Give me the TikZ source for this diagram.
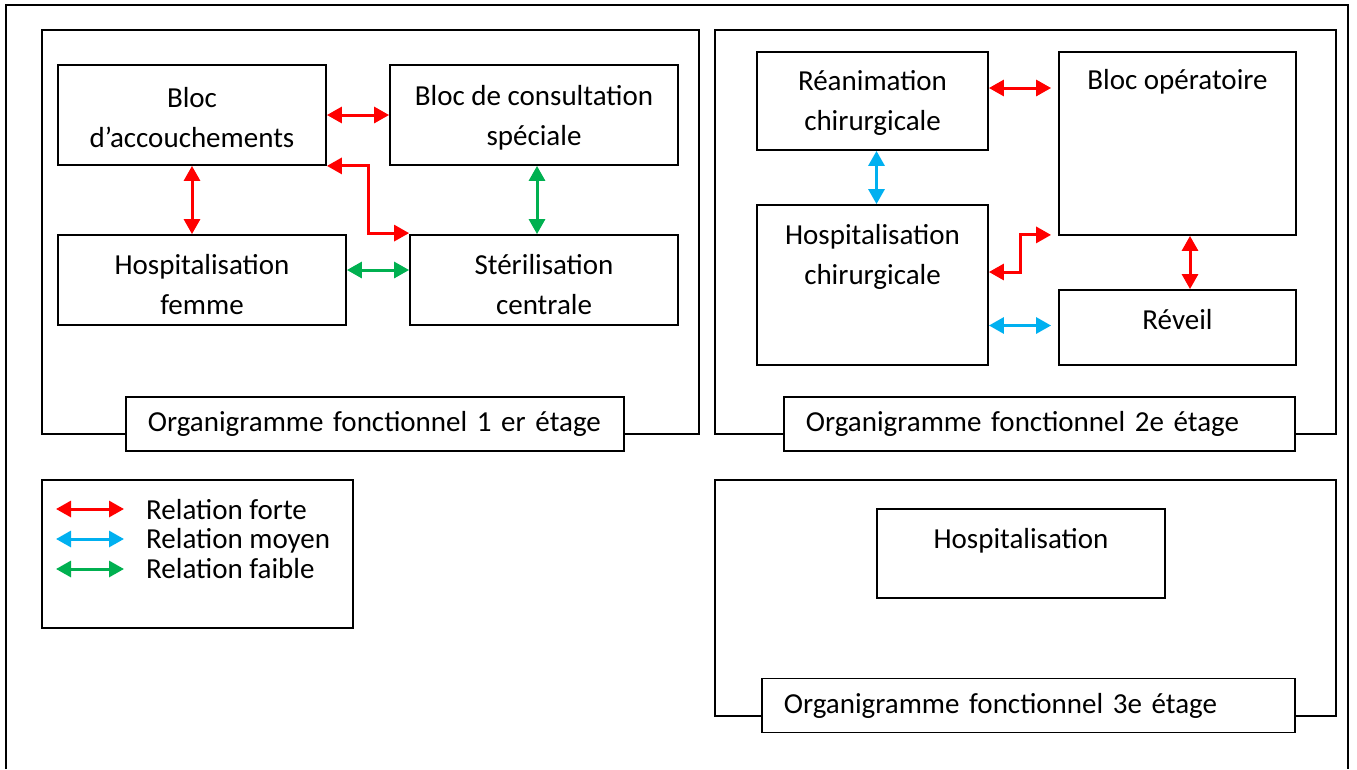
\documentclass[tikz,border=0pt]{standalone}
\usepackage{fontspec}
\setmainfont{Carlito}
\newfontfamily\labfont[WordSpace=0.75]{Carlito}
\usetikzlibrary{arrows.meta,calc}
\definecolor{rred}{RGB}{255,0,0}
\definecolor{rblue}{RGB}{0,176,240}
\definecolor{rgreen}{RGB}{0,176,80}
\begin{document}
\begin{tikzpicture}[x=1pt,y=-1pt,
  bigfont/.style={font=\fontsize{29}{40}\selectfont},
  box/.style={draw, line width=1.8pt, inner sep=0pt},
  frame/.style={draw, line width=1.8pt, inner sep=0pt},
  lab/.style={draw, fill=white, line width=1.8pt, inner xsep=22pt, inner ysep=0pt, align=left, anchor=west, minimum height=54pt, font=\labfont\fontsize{29}{40}\selectfont},
  txt/.style={inner sep=0pt, align=center, bigfont},
  rel/.style={line width=3pt, {Triangle[length=15pt,width=16pt]}-{Triangle[length=15pt,width=16pt]}},
  forte/.style={rel, draw=rred},
  moyen/.style={rel, draw=rblue},
  faible/.style={rel, draw=rgreen}]
\useasboundingbox (0,0) rectangle (1357,769);
% outer frame
\draw[line width=1.8pt] (6,769) -- (6,5) -- (1348,5) -- (1348,769);
% frames
\node[frame, minimum width=657pt, minimum height=404pt] (f1) at (370.5,232) {};
\node[frame, minimum width=621pt, minimum height=404pt] (f2) at (1025.5,232) {};
\node[frame, minimum width=621pt, minimum height=236pt] (f3) at (1025.5,598) {};
\node[frame, minimum width=311pt, minimum height=148pt] (leg) at (197.5,554) {};
% labels
\node[lab, text width=454pt] (l1) at (125,424) {Organigramme fonctionnel 1 er étage};
\node[lab, text width=467pt] (l2) at (783,424) {Organigramme fonctionnel 2e étage};
\node[lab, text width=489pt] (l3) at (761,705.5) {Organigramme fonctionnel 3e étage};
% floor 1
\node[box, minimum width=268pt, minimum height=100pt] (acc) at (192,115) {};
\node[txt] (acct) at ($(acc)+(0,3)$) {Bloc\\d’accouchements};
\node[box, minimum width=288pt, minimum height=100pt] (cons) at (534,115) {};
\node[txt] (const) at ($(cons)+(0,3)$) {Bloc de consultation\\spéciale};
\node[box, minimum width=288pt, minimum height=90pt] (hfem) at (202,280) {};
\node[txt] (hfemt) at ($(hfem)+(0,5)$) {Hospitalisation\\femme};
\node[box, minimum width=268pt, minimum height=90pt] (ster) at (544,280) {};
\node[txt] (stert) at ($(ster)+(0,5)$) {Stérilisation\\centrale};
% floor 2
\node[box, minimum width=231pt, minimum height=98pt] (rea) at (872.5,101) {};
\node[txt] (reat) at ($(rea)+(0,2)$) {Réanimation\\chirurgicale};
\node[box, minimum width=237pt, minimum height=183pt] (bop) at (1177.5,143.5) {};
\node[txt, anchor=base] (bopt) at (1177.5,89) {Bloc opératoire};
\node[box, minimum width=231pt, minimum height=160pt] (hchir) at (872.5,285) {};
\node[txt, anchor=north] (hchirt) at (872.5,224) {Hospitalisation\\chirurgicale};
\node[box, minimum width=237pt, minimum height=75pt] (rev) at (1177.5,327.5) {};
\node[txt, anchor=base] (revt) at (1177.5,329) {Réveil};
% floor 3
\node[box, minimum width=288pt, minimum height=89pt] (hosp) at (1021,553.5) {};
\node[txt, anchor=base] (hospt) at (1021,548) {Hospitalisation};
% connectors floor 1
\draw[forte] (acc.east) -- (cons.west);
\draw[forte] (acc.south) -- (acc.south |- hfem.north);
\coordinate (sterT) at ($(ster.north west)+(0,-1)$);
\draw[forte] (acc.south east) -- ++(42,0) |- (sterT);
\coordinate (g1) at ($(cons.south)+(3,0)$);
\draw[faible] (g1) -- (g1 |- ster.north);
\coordinate (g2) at ($(ster.west)+(0,-10)$);
\draw[faible] (g2 -| hfem.east) -- (g2);
% connectors floor 2
\coordinate (r1) at ($(rea.east)+(0,-13)$);
\draw[forte, shorten >=7pt] (r1) -- (r1 -| bop.west);
\coordinate (b1) at ($(rea.south)+(4,0)$);
\draw[moyen] (b1) -- (b1 |- hchir.north);
\coordinate (r2) at ($(bop.south)+(12.5,0)$);
\draw[forte] (r2) -- (r2 |- rev.north);
\coordinate (r3) at ($(hchir.east)+(0,-13)$);
\coordinate (bopB) at ($(bop.south west)+(0,-1)$);
\draw[forte, shorten >=7pt] (r3) -- ++(32,0) |- (bopB);
\coordinate (b2) at ($(rev.west)+(0,-2)$);
\draw[moyen, shorten >=7pt] (b2 -| hchir.east) -- (b2);
% legend
\coordinate (la1) at (56,509); \coordinate (lb1) at (124,509);
\coordinate (la2) at (56,539); \coordinate (lb2) at (124,539);
\coordinate (la3) at (56,569); \coordinate (lb3) at (124,569);
\draw[forte] (la1) -- (lb1);
\draw[moyen] (la2) -- (lb2);
\draw[faible] (la3) -- (lb3);
\node[txt, anchor=west, align=left, font=\fontsize{29}{29.5}\selectfont] (legt) at (146,539) {Relation forte\\Relation moyen\\Relation faible};
\end{tikzpicture}
\end{document}
